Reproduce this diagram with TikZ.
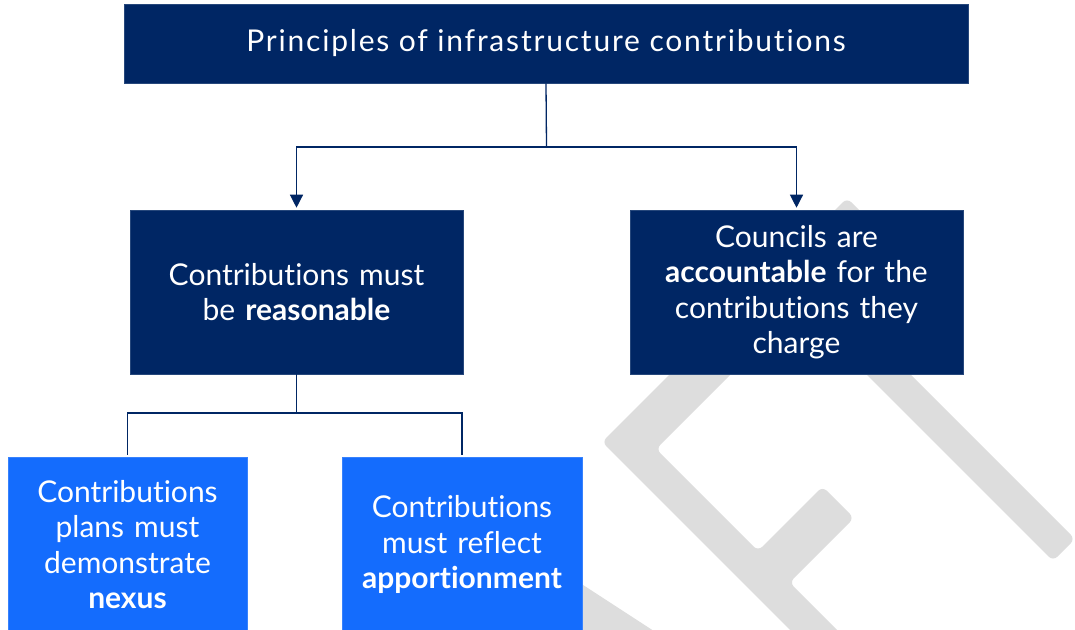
\documentclass[tikz,border=0pt]{standalone}
\usepackage{fontspec}
\setmainfont{Lato}[Ligatures={NoCommon}]
\newfontfamily\titlefont{Lato}[Ligatures={NoCommon}, LetterSpace=6]
\usetikzlibrary{arrows.meta}
\definecolor{navy}{HTML}{002664}
\definecolor{brightblue}{HTML}{146CFD}
\definecolor{wmgrey}{HTML}{DDDDDD}
\tikzset{
  boxtext/.style={font=\fontsize{30}{35.5}\selectfont, text=white, align=center, inner sep=0pt},
  darkbox/.style={boxtext, fill=navy, draw=navy!85!white, line width=0.6pt},
  lightbox/.style={boxtext, fill=brightblue, draw=brightblue!85!white, line width=0.6pt},
  link/.style={draw=navy, line width=1.3pt},
  arrowlink/.style={link, -{Triangle[width=13pt,length=13pt]}, shorten >=2pt},
  wmshape/.style={fill=wmgrey, rounded corners=6pt}
}
\begin{document}
\begin{tikzpicture}[x=1pt, y=-1pt]
\clip (0,0) rectangle (1075,629);
\fill[white] (0,0) rectangle (1075,629);

% watermark letters (A, F, T) set diagonally behind the chart
\path[wmshape] (560,570) -- (720,674) -- (698,707) -- (538,603.5) -- cycle;
\path[wmshape] (602,442) -- (712,332) -- (742.5,362.5) -- (656,449) -- (758,551)
  -- (822.5,486.5) -- (854,518) -- (789.5,582.5) -- (1053.5,846.5) -- (1030,870) -- cycle;
\path[wmshape] (712,333) -- (847,198) -- (878,229) -- (821.5,285.5) -- (1075,539)
  -- (1053,561) -- (799.5,307.5) -- (743,364) -- cycle;

% boxes
\node[darkbox, minimum width=844pt, minimum height=79pt, font=\titlefont\fontsize{30}{35.5}\selectfont] (title) at (546,43.5)
  {Principles of infrastructure contributions};
\node[darkbox, minimum width=333pt, minimum height=164pt, text width=320pt] (reason) at (296.5,292)
  {Contributions must\\be \textbf{reasonable}};
\node[darkbox, minimum width=333pt, minimum height=164pt, text width=320pt] (account) at (796.5,292)
  {Councils are\\\textbf{accountable} for the\\contributions they\\charge};
\node[lightbox, minimum width=239pt, minimum height=175pt, text width=230pt] (nexus) at (127.5,544.5)
  {Contributions\\plans must\\demonstrate\\\textbf{nexus}};
\node[lightbox, minimum width=240pt, minimum height=175pt, text width=230pt] (apport) at (462,544.5)
  {Contributions\\must reflect\\\textbf{apportionment}};

% connectors
\coordinate (split1) at (546.5,147);
\coordinate (split2) at (296.5,413);
\draw[link] (title.south) -- (split1);
\draw[arrowlink] (split1) -| (reason.north);
\draw[arrowlink] (split1) -| (account.north);
\draw[link] (reason.south) -- (split2);
\draw[link, shorten >=2pt] (split2) -| (nexus.north);
\draw[link, shorten >=2pt] (split2) -| (apport.north);
\end{tikzpicture}
\end{document}
